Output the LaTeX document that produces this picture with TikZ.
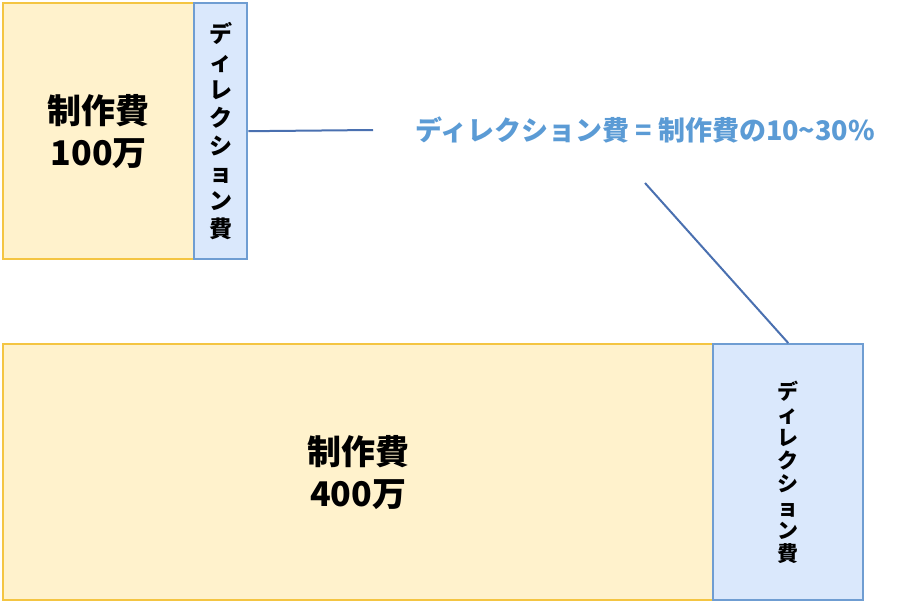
\documentclass[tikz,border=0pt]{standalone}
\usepackage{fontspec}
\setmainfont{Noto Sans CJK JP}
\usetikzlibrary{positioning}

\definecolor{prodfill}{HTML}{FFF2CC}
\definecolor{proddraw}{HTML}{F4C542}
\definecolor{dirfill}{HTML}{DAE8FC}
\definecolor{dirdraw}{HTML}{6F9DD2}
\definecolor{notetext}{HTML}{5B9BD5}
\definecolor{linkline}{HTML}{4A70B0}

\tikzset{
    prodbox/.style={draw=proddraw, fill=prodfill, line width=2.4pt, anchor=north west,
        align=center, font=\fontsize{34}{42}\selectfont\bfseries},
    dirbox/.style={draw=dirdraw, fill=dirfill, line width=2.4pt, anchor=north west,
        align=center, font=\fontsize{23}{27.8}\selectfont\bfseries},
    link/.style={draw=linkline, line width=2pt}
}

\begin{document}
\begin{tikzpicture}[x=1pt,y=-1pt]
    \useasboundingbox (0,0) rectangle (917,600);

    % Small project
    \node [prodbox, minimum width=191pt, minimum height=256pt] (prod1) at (2,2) {制作費\\100万};
    \node [dirbox, minimum width=53pt, minimum height=256pt] (dir1) at (193,2)
        {デ\\ィ\\レ\\ク\\シ\\ョ\\ン\\費};

    % Large project
    \node [prodbox, minimum width=710pt, minimum height=256pt] (prod2) at (2,343) {制作費\\400万};
    \node [dirbox, minimum width=150pt, minimum height=256pt,
        font=\fontsize{21}{23.2}\selectfont\bfseries] (dir2) at (712,343)
        {デ\\ィ\\レ\\ク\\シ\\ョ\\ン\\費};

    % Note
    \node [text=notetext, font=\fontsize{27}{30}\selectfont\bfseries] (note) at (645,130)
        {ディレクション費 = 制作費の10\textasciitilde30\%};
    \coordinate (end1) at (373,130);
    \coordinate (end2) at (645,183);

    \draw [link] (dir1.east) -- (end1);
    \draw [link] (end2) -- (dir2.north);
\end{tikzpicture}
\end{document}
